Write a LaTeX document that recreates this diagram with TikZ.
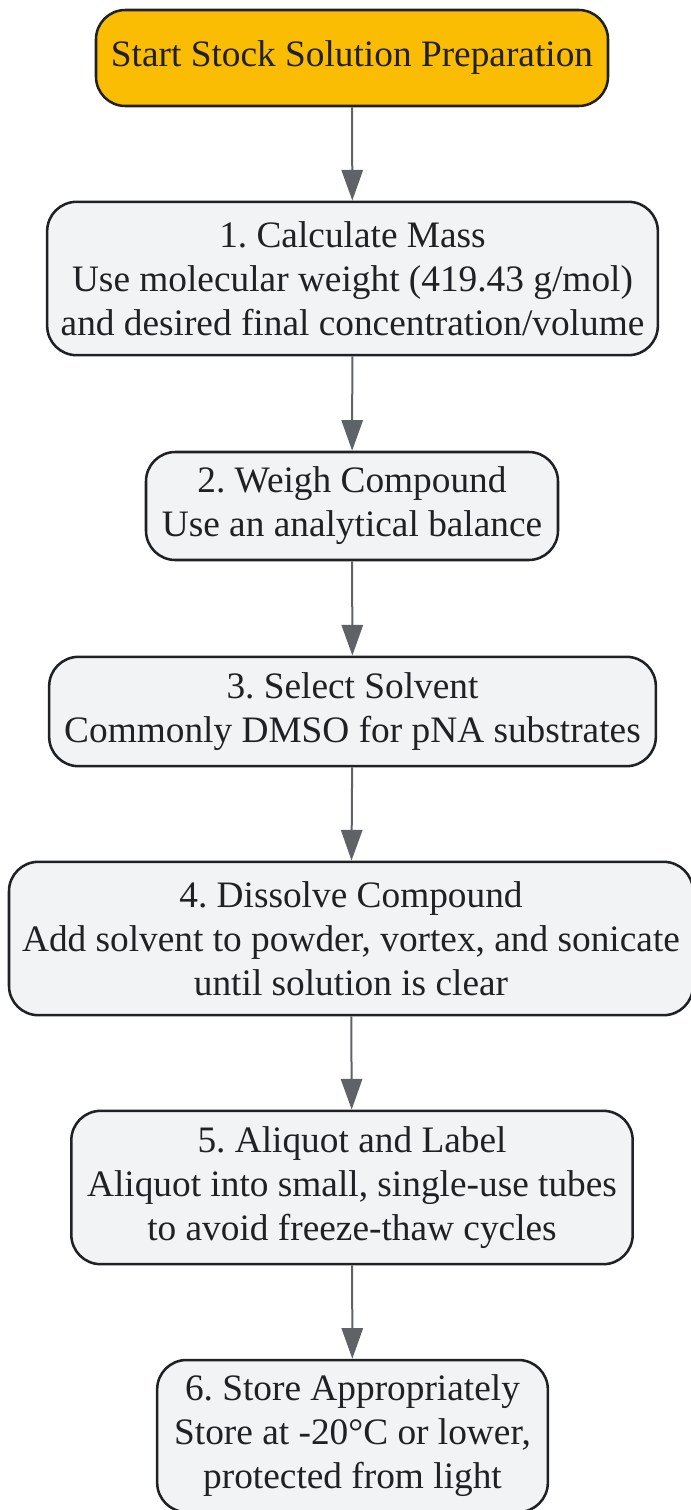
\documentclass[tikz,border=0pt]{standalone}
\usepackage{fontspec}
\setmainfont{Liberation Serif}
\usetikzlibrary{arrows.meta}
\frenchspacing

\definecolor{startfill}{HTML}{FBBC04}
\definecolor{stepfill}{HTML}{F1F3F4}
\definecolor{edgegray}{HTML}{5F6368}
\definecolor{inkdark}{HTML}{202124}

\tikzset{
  basebox/.style={draw=inkdark, line width=1.9pt, rounded corners=22pt, align=center,
    inner sep=0pt, text=inkdark, font=\fontsize{28}{33}\selectfont},
  startbox/.style={basebox, fill=startfill},
  stepbox/.style={basebox, fill=stepfill},
  flow/.style={draw=edgegray, line width=1.5pt,
    -{Triangle[width=16pt,length=23pt]}}
}

\begin{document}
\begin{tikzpicture}[x=0.75pt, y=-0.75pt]
		\useasboundingbox (0,0) rectangle (691,1510);
		
		\node[startbox, minimum width=384pt, minimum height=72pt](START) at (352,58){Start Stock Solution Preparation};
		
		\node[stepbox, minimum width=458pt, minimum height=115pt](S1) at (352.5,278.5){1. Calculate Mass\\Use molecular weight (419.43 g/mol)\\and desired final concentration/volume};
		\node[stepbox, minimum width=309pt, minimum height=81pt](S2) at (352,506){2. Weigh Compound\\Use an analytical balance};
		\node[stepbox, minimum width=455pt, minimum height=82pt](S3) at (352.5,711.5){3. Select Solvent\\Commonly DMSO for pNA substrates};
		\node[stepbox, minimum width=513pt, minimum height=115pt](S4) at (351,938.5){4. Dissolve Compound\\Add solvent to powder, vortex, and sonicate\\until solution is clear};
		\node[stepbox, minimum width=421pt, minimum height=115pt](S5) at (352,1187.5){5. Aliquot and Label\\Aliquot into small, single-use tubes\\to avoid freeze-thaw cycles};
		\node[stepbox, minimum width=293pt, minimum height=114pt](S6) at (352.5,1436){6. Store Appropriately\\Store at -20°C or lower,\\protected from light};
		
		\draw[flow] (START) -- (S1);
		\draw[flow] (S1) -- (S2);
		\draw[flow] (S2) -- (S3);
		\draw[flow] (S3) -- (S4);
		\draw[flow] (S4) -- (S5);
		\draw[flow] (S5) -- (S6);
\end{tikzpicture}
\end{document}
